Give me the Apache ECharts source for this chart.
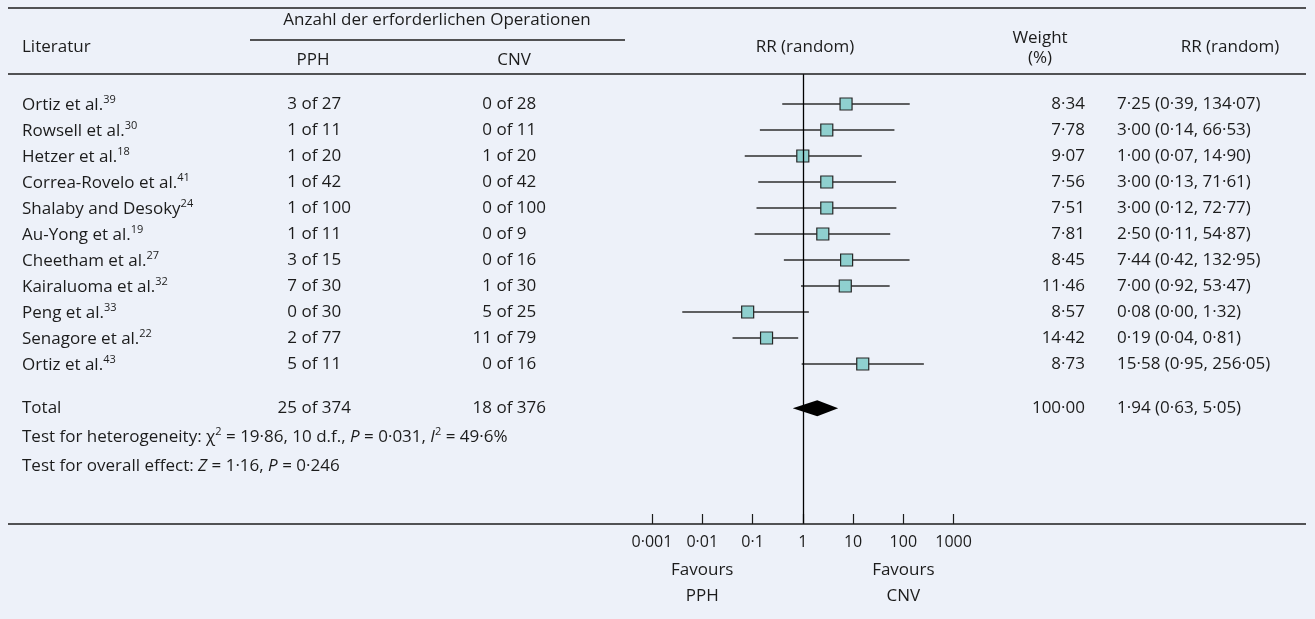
<!DOCTYPE html>
<html><head><meta charset="utf-8">
<script src="https://cdn.jsdelivr.net/npm/echarts@6/dist/echarts.min.js"></script>
<style>html,body{margin:0;padding:0;background:#edf1f9}#c{width:1315px;height:619px}</style>
</head><body><div id="c"></div>
<script>
// ---------------- data ----------------
const studies = ['Ortiz et al.', 'Rowsell et al.', 'Hetzer et al.', 'Correa-Rovelo et al.', 'Shalaby and Desoky', 'Au-Yong et al.', 'Cheetham et al.', 'Kairaluoma et al.', 'Peng et al.', 'Senagore et al.', 'Ortiz et al.'];
const refNums = ['39', '30', '18', '41', '24', '19', '27', '32', '33', '22', '43'];
const pphEvents = [3, 1, 1, 1, 1, 1, 3, 7, 0, 2, 5];
const pphTotals = [27, 11, 20, 42, 100, 11, 15, 30, 30, 77, 11];
const cnvEvents = [0, 0, 1, 0, 0, 0, 0, 1, 5, 11, 0];
const cnvTotals = [28, 11, 20, 42, 100, 9, 16, 30, 25, 79, 16];
const weights = [8.34, 7.78, 9.07, 7.56, 7.51, 7.81, 8.45, 11.46, 8.57, 14.42, 8.73];
const rr = [7.25, 3.00, 1.00, 3.00, 3.00, 2.50, 7.44, 7.00, 0.08, 0.19, 15.58];
const rrLow = [0.39, 0.14, 0.07, 0.13, 0.12, 0.11, 0.42, 0.92, 0.004, 0.04, 0.95];
const rrHigh = [134.07, 66.53, 14.90, 71.61, 72.77, 54.87, 132.95, 53.47, 1.32, 0.81, 256.05];
const totalPph = [25, 374];
const totalCnv = [18, 376];
const totalWeight = 100.00;
const totalRR = [1.94, 0.63, 5.05];
const xTicks = [0.001, 0.01, 0.1, 1, 10, 100, 1000];
const heteroStats = ['19·86', '10', '0·031', '49·6%'];
const overallStats = ['1·16', '0·246'];

// ---------------- layout ----------------
const FONT = '"Open Sans", "Noto Sans", sans-serif';
const INK = '#1c1c1c';
const FS = 17;
const TOTAL_ROW = 11.7;
const dec = (v, d) => v.toFixed(d).replace('.', '\u00B7');
const tickFmt = v => {
  const e = Math.round(Math.log10(v));
  const s = e >= 0 ? String(Math.round(v)) : v.toFixed(-e);
  return xTicks.some(t => Math.abs(Math.log10(t) - Math.log10(v)) < 1e-6) ? s.replace('.', '\u00B7') : '';
};

const chart = echarts.init(document.getElementById('c'));
chart.setOption({
  backgroundColor: '#edf1f9',
  animation: false,
  grid: { left: 652, right: 1315 - 953.6, top: 74, bottom: 619 - 524, containLabel: false },
  xAxis: {
    type: 'log', logBase: 10, min: xTicks[0], max: xTicks[xTicks.length - 1], splitNumber: 6,
    position: 'bottom',
    axisLine: { show: false, onZero: false },
    axisTick: { show: true, inside: true, length: 10, lineStyle: { color: INK, width: 1.2 } },
    axisLabel: { margin: 10, color: INK, fontSize: 16, fontFamily: FONT, formatter: tickFmt, showMinLabel: true, showMaxLabel: true },
    splitLine: { show: false }, minorTick: { show: false }
  },
  yAxis: { type: 'value', inverse: true, min: -1.154, max: 16.154, show: false },
  series: [
    {
      type: 'custom', z: 2, silent: true,
      data: studies.map((s, i) => [rrLow[i], rrHigh[i], i]),
      encode: { x: [0, 1], y: 2 },
      renderItem: (params, api) => {
        const a = api.coord([api.value(0), api.value(2)]);
        const b = api.coord([api.value(1), api.value(2)]);
        return { type: 'line', shape: { x1: a[0], y1: a[1], x2: b[0], y2: b[1] }, style: { stroke: '#2e2e2e', lineWidth: 1.5 } };
      }
    },
    {
      type: 'scatter', z: 3, silent: true, symbol: 'rect', symbolSize: [12, 12],
      data: studies.map((s, i) => [rr[i], i]),
      itemStyle: { color: '#8fd0cf', borderColor: '#262626', borderWidth: 1.2, opacity: 1 },
      markLine: {
        silent: true, symbol: ['none', 'none'], label: { show: false },
        lineStyle: { color: '#000', width: 1.3, type: 'solid' },
        data: [{ xAxis: 1 }]
      }
    },
    {
      type: 'custom', z: 3, silent: true,
      data: [[totalRR[1], totalRR[0], totalRR[2], TOTAL_ROW]],
      encode: { x: [0, 1, 2], y: 3 },
      renderItem: (params, api) => {
        const y = api.value(3);
        const L = api.coord([api.value(0), y]), C = api.coord([api.value(1), y]), R = api.coord([api.value(2), y]);
        const h = 8;
        return { type: 'polygon', shape: { points: [[L[0], L[1]], [C[0], C[1] - h], [R[0], R[1]], [C[0], C[1] + h]] }, style: { fill: '#000' } };
      }
    }
  ]
});

// ---------------- table text ----------------
const rich = {
  s: { fontSize: 11, fontFamily: FONT, fill: INK, lineHeight: 20, verticalAlign: 'top' },
  i: { fontSize: FS, fontFamily: FONT, fill: INK, lineHeight: 20, fontStyle: 'italic', verticalAlign: 'bottom' },
  n: { fontSize: FS, fontFamily: FONT, fill: INK, lineHeight: 20, verticalAlign: 'bottom' }
};
function txt(text, x, y, align, extra) {
  return { type: 'text', silent: true, z: 10, style: Object.assign({ text, x, y, textAlign: align || 'left', textVerticalAlign: 'middle', fill: INK, fontSize: FS, fontFamily: FONT }, extra || {}) };
}
function rtxt(text, x, y, align) {
  return txt(text, x, y, align, { rich, lineHeight: 20 });
}
function hline(x1, x2, y, w) {
  return { type: 'line', silent: true, z: 10, shape: { x1, y1: y, x2, y2: y }, style: { stroke: INK, lineWidth: w || 1.5 } };
}
const rowY = v => chart.convertToPixel({ yAxisIndex: 0 }, v);
const g = [];
g.push(hline(8, 1306, 8));
g.push(hline(8, 1306, 74));
g.push(hline(8, 1306, 524));
g.push(hline(250, 625, 40, 1.3));
g.push(txt('Anzahl der erforderlichen Operationen', 437, 20, 'center'));
g.push(txt('Literatur', 22, 47));
g.push(txt('PPH', 313, 60, 'center'));
g.push(txt('CNV', 514, 60, 'center'));
g.push(txt('RR (random)', 805, 47, 'center'));
g.push(txt('Weight', 1040, 38, 'center'));
g.push(txt('(%)', 1040, 58, 'center'));
g.push(txt('RR (random)', 1230, 47, 'center'));

const PPH_X = 297, CNV_X = 492, W_X = 1085, RR_X = 1117;
function countCell(e, n, x, y) {
  g.push(txt(String(e), x, y, 'right'));
  g.push(txt('of ' + n, x + 4.5, y, 'left'));
}
studies.forEach((s, i) => {
  const y = rowY(i);
  g.push(rtxt('{n|' + s + '}{s|' + refNums[i] + '}', 22, y));
  countCell(pphEvents[i], pphTotals[i], PPH_X, y);
  countCell(cnvEvents[i], cnvTotals[i], CNV_X, y);
  g.push(txt(dec(weights[i], 2), W_X, y, 'right'));
  g.push(txt(dec(rr[i], 2) + ' (' + dec(rrLow[i], 2) + ', ' + dec(rrHigh[i], 2) + ')', RR_X, y));
});
const ty = rowY(TOTAL_ROW);
g.push(txt('Total', 22, ty));
countCell(totalPph[0], totalPph[1], PPH_X, ty);
countCell(totalCnv[0], totalCnv[1], CNV_X, ty);
g.push(txt(dec(totalWeight, 2), W_X, ty, 'right'));
g.push(txt(dec(totalRR[0], 2) + ' (' + dec(totalRR[1], 2) + ', ' + dec(totalRR[2], 2) + ')', RR_X, ty));

g.push(rtxt('{n|Test for heterogeneity: \u03C7}{s|2}{n| = ' + heteroStats[0] + ', ' + heteroStats[1] + ' d.f., }{i|P}{n| = ' + heteroStats[2] + ', }{i|I}{s|2}{n| = ' + heteroStats[3] + '}', 22, 436));
g.push(rtxt('{n|Test for overall effect: }{i|Z}{n| = ' + overallStats[0] + ', }{i|P}{n| = ' + overallStats[1] + '}', 22, 465));

const xPPH = chart.convertToPixel({ xAxisIndex: 0 }, 0.01);
const xCNV = chart.convertToPixel({ xAxisIndex: 0 }, 100);
g.push(txt('Favours', xPPH, 570, 'center'));
g.push(txt('PPH', xPPH, 596, 'center'));
g.push(txt('Favours', xCNV, 570, 'center'));
g.push(txt('CNV', xCNV, 596, 'center'));

chart.setOption({ graphic: g });
</script>
</body></html>
